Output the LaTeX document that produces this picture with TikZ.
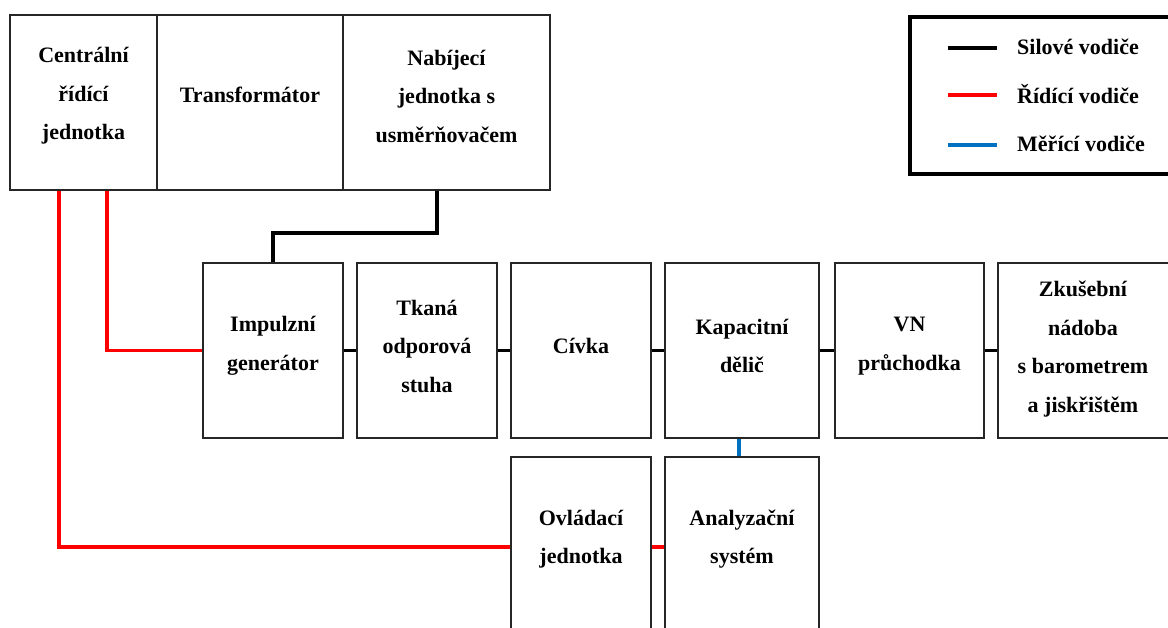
\documentclass[tikz,border=0pt]{standalone}
\usepackage{fontspec}
\setmainfont{Liberation Serif}
\usetikzlibrary{calc}
\definecolor{ctrlred}{RGB}{255,0,0}
\definecolor{measblue}{RGB}{0,112,192}
\begin{document}
\begin{tikzpicture}[x=1pt,y=-1pt,
  blk/.style={draw=black!85,line width=1.3pt,rectangle,inner sep=0pt},
  lbl/.style={font=\fontsize{22}{38.5}\selectfont\bfseries,align=center,inner sep=0pt},
  power/.style={line width=3.8pt,black},
  ctrl/.style={line width=3.8pt,ctrlred},
  meas/.style={line width=3.8pt,measblue},
  legline/.style={line width=4pt},
  legtxt/.style={font=\fontsize{22}{26}\selectfont\bfseries,anchor=west,inner sep=0pt}]
\useasboundingbox (0,0) rectangle (1168,628);
\clip (0,0) rectangle (1168,628);
\fill[white] (0,0) rectangle (1168,628);

% top row: control, transformer, charger
\node[blk,minimum width=147pt,minimum height=175pt] (cent) at (83.5,102.5) {};
\node[blk,minimum width=186pt,minimum height=175pt] (trans) at (250,102.5) {};
\node[blk,minimum width=207pt,minimum height=175pt] (nab) at (446.5,102.5) {};
\node[lbl] (cent-t) at (83.5,96) {Centrální\\řídící\\jednotka};
\node[lbl] (trans-t) at (250,95) {Transformátor};
\node[lbl] (nab-t) at (446.5,96) {Nabíjecí\\jednotka s\\usměrňovačem};

% middle row: power chain
\node[blk,minimum width=140pt,minimum height=175pt] (imp) at (273,350.5) {};
\node[blk,minimum width=140pt,minimum height=175pt] (tka) at (427,350.5) {};
\node[blk,minimum width=140pt,minimum height=175pt] (civ) at (581,350.5) {};
\node[blk,minimum width=154pt,minimum height=175pt] (kap) at (742,350.5) {};
\node[blk,minimum width=149pt,minimum height=175pt] (vn) at (909.5,350.5) {};
\node[blk,minimum width=176pt,minimum height=175pt] (zku) at (1086,350.5) {};
\node[lbl] (imp-t) at (273,346) {Impulzní\\generátor};
\node[lbl] (tka-t) at (427,346) {Tkaná\\odporová\\stuha};
\node[lbl] (civ-t) at (581,346) {Cívka};
\node[lbl] (kap-t) at (742,346) {Kapacitní\\dělič};
\node[lbl] (vn-t) at (909.5,346) {VN\\průchodka};
\node[lbl] (zku-t) at (1083,349) {Zkušební\\nádoba\\s barometrem\\a jiskřištěm};

% bottom row
\node[blk,minimum width=140pt,minimum height=180pt] (ovl) at (581,547) {};
\node[blk,minimum width=154pt,minimum height=180pt] (ana) at (742,547) {};
\node[lbl] (ovl-t) at (581,539) {Ovládací\\jednotka};
\node[lbl] (ana-t) at (742,539) {Analyzační\\systém};

% power conductors
\draw[power] ($(nab.south west)+(95,0)$) -- ++(0,42) -| (imp.north);
\draw[power] (imp.east) -- (tka.west);
\draw[power] (tka.east) -- (civ.west);
\draw[power] (civ.east) -- (kap.west);
\draw[power] (kap.east) -- (vn.west);
\draw[power] (vn.east) -- (zku.west);

% control conductors
\draw[ctrl] ($(cent.south west)+(50,0)$) |- (ovl.west);
\draw[ctrl] ($(cent.south west)+(98,0)$) |- (imp.west);
\draw[ctrl] (ovl.east) -- (ana.west);

% measuring conductor
\draw[meas] ([xshift=-3pt]kap.south) -- ([xshift=-3pt]ana.north);

% legend
\node[draw,line width=3.4pt,rectangle,minimum width=270pt,minimum height=157pt] (leg) at (1045,95.5) {};
\coordinate (l1) at (948,48);
\coordinate (l2) at (948,95);
\coordinate (l3) at (948,145);
\draw[legline,black] (l1) -- ++(49,0) coordinate (l1e);
\draw[legline,ctrlred] (l2) -- ++(49,0) coordinate (l2e);
\draw[legline,measblue] (l3) -- ++(49,0) coordinate (l3e);
\node[legtxt] (t1) at ($(l1e)+(20,-1)$) {Silové vodiče};
\node[legtxt] (t2) at ($(l2e)+(20,-1)$) {Řídící vodiče};
\node[legtxt] (t3) at ($(l3e)+(20,-1)$) {Měřící vodiče};
\end{tikzpicture}
\end{document}
